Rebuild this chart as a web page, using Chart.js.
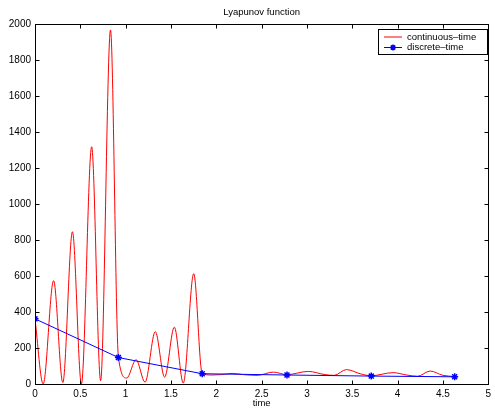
<!DOCTYPE html>
<html>
<head>
<meta charset="utf-8">
<script src="https://cdn.jsdelivr.net/npm/chart.js@4"></script>
<style>
  html, body { margin: 0; padding: 0; background: #fff; }
  #wrap { width: 495px; height: 409px; }
</style>
</head>
<body>
<div id="wrap"><canvas id="lyapunovChart" width="495" height="409"></canvas></div>
<script>
// continuous-time curve, peaks and troughs
const ctTime = [0, 0.09, 0.205, 0.307, 0.413, 0.512, 0.625, 0.724, 0.833, 0.92, 1.012,
  1.115, 1.214, 1.327, 1.43, 1.537, 1.636, 1.751, 1.845, 1.95, 2.05, 2.175, 2.3, 2.45,
  2.63, 2.78, 3.015, 3.2, 3.3, 3.435, 3.6, 3.71, 3.95, 4.1, 4.22, 4.36, 4.5, 4.63];
const ctValue = [362, 0, 574, 8, 846, 0, 1318, 18, 1967, 150, 33,
  135, 10, 291, 38, 316, 5, 613, 57, 50, 52, 59, 52, 48,
  66, 52, 70, 52, 48, 80, 55, 46, 63, 50, 43, 72, 48, 42];

// discrete-time samples
const dtTime = [0, 0.92, 1.845, 2.78, 3.71, 4.63];
const dtValue = [362, 147, 57, 50, 44, 40];

const seriesLabels = ['continuous\u2013time', 'discrete\u2013time'];
const chartTitle = 'Lyapunov function';
const xTicks = { min: 0, max: 5, step: 0.5 };
const yTicks = { min: 0, max: 2000, step: 200 };

const FONT = 'Liberation Sans, Arial, Helvetica, sans-serif';

const toPoints = (xs, ys) => xs.map((x, i) => ({ x: x, y: ys[i] }));

// matlab style box with inward ticks, title and a framed legend
const matlabFrame = {
  id: 'matlabFrame',
  afterDraw(chart) {
    const { ctx, chartArea: a, scales } = chart;
    const L = Math.round(a.left) + 0.5, R = Math.round(a.right) + 0.5;
    const T = Math.round(a.top) + 0.5, B = Math.round(a.bottom) + 0.5;
    const len = 4;
    ctx.save();
    ctx.strokeStyle = '#000';
    ctx.lineWidth = 1;
    ctx.strokeRect(L, T, R - L, B - T);
    ctx.beginPath();
    scales.x.ticks.forEach(t => {
      const px = Math.round(scales.x.getPixelForValue(t.value)) + 0.5;
      ctx.moveTo(px, B); ctx.lineTo(px, B - len);
      ctx.moveTo(px, T); ctx.lineTo(px, T + len);
    });
    scales.y.ticks.forEach(t => {
      const py = Math.round(scales.y.getPixelForValue(t.value)) + 0.5;
      ctx.moveTo(L, py); ctx.lineTo(L + len, py);
      ctx.moveTo(R, py); ctx.lineTo(R - len, py);
    });
    ctx.stroke();

    // title
    ctx.fillStyle = '#000';
    ctx.font = '9.5px ' + FONT;
    ctx.textAlign = 'center';
    ctx.textBaseline = 'middle';
    ctx.fillText(chartTitle, (a.left + a.right) / 2, 12);

    // legend
    const bx = 378.5, by = 29.5, bw = 109, bh = 25;
    ctx.fillStyle = '#fff';
    ctx.fillRect(bx, by, bw, bh);
    ctx.strokeRect(bx, by, bw, bh);
    ctx.textAlign = 'left';
    chart.data.datasets.forEach((ds, i) => {
      const y = 37 + i * 10.5;
      ctx.strokeStyle = ds.borderColor;
      ctx.lineWidth = 1;
      ctx.beginPath();
      ctx.moveTo(384, y); ctx.lineTo(402, y);
      ctx.stroke();
      if (ds.pointStyle === 'star') {
        ctx.lineWidth = 1.5;
        const r = 3;
        ctx.beginPath();
        for (let k = 0; k < 4; k++) {
          const ang = k * Math.PI / 4;
          ctx.moveTo(393 - r * Math.cos(ang), y - r * Math.sin(ang));
          ctx.lineTo(393 + r * Math.cos(ang), y + r * Math.sin(ang));
        }
        ctx.stroke();
      }
      ctx.fillStyle = '#000';
      ctx.fillText(ds.label, 407, y);
    });
    ctx.restore();
  }
};

new Chart(document.getElementById('lyapunovChart').getContext('2d'), {
  type: 'line',
  data: {
    datasets: [
      {
        label: seriesLabels[0],
        data: toPoints(ctTime, ctValue),
        borderColor: '#ff0000',
        borderWidth: 1,
        pointRadius: 0,
        cubicInterpolationMode: 'monotone',
        order: 1,
      },
      {
        label: seriesLabels[1],
        data: toPoints(dtTime, dtValue),
        borderColor: '#0000ff',
        backgroundColor: '#0000ff',
        borderWidth: 1,
        tension: 0,
        pointStyle: 'star',
        pointRadius: 3.5,
        pointBorderWidth: 1.5,
        order: 0,
      }
    ]
  },
  options: {
    responsive: false,
    animation: false,
    events: [],
    layout: { padding: { top: 24, right: 4, left: 0, bottom: 0 } },
    plugins: {
      legend: { display: false },
      tooltip: { enabled: false },
      title: { display: false },
    },
    scales: {
      x: {
        type: 'linear',
        min: xTicks.min,
        max: xTicks.max,
        grid: { display: false, drawTicks: false },
        border: { display: false },
        ticks: {
          stepSize: xTicks.step,
          color: '#000',
          font: { family: FONT, size: 10 },
          padding: 4,
          maxRotation: 0,
          callback: v => String(v),
        },
        title: {
          display: true,
          text: 'time',
          color: '#000',
          font: { family: FONT, size: 9.5 },
          padding: { top: 0, bottom: 0 },
        },
        afterFit: scale => { scale.height = 25; },
      },
      y: {
        min: yTicks.min,
        max: yTicks.max,
        grid: { display: false, drawTicks: false },
        border: { display: false },
        ticks: {
          stepSize: yTicks.step,
          color: '#000',
          font: { family: FONT, size: 10 },
          padding: 4,
          callback: v => String(v),
        },
        afterFit: scale => { scale.width = 35; },
      }
    }
  },
  plugins: [matlabFrame]
});
</script>
</body>
</html>
